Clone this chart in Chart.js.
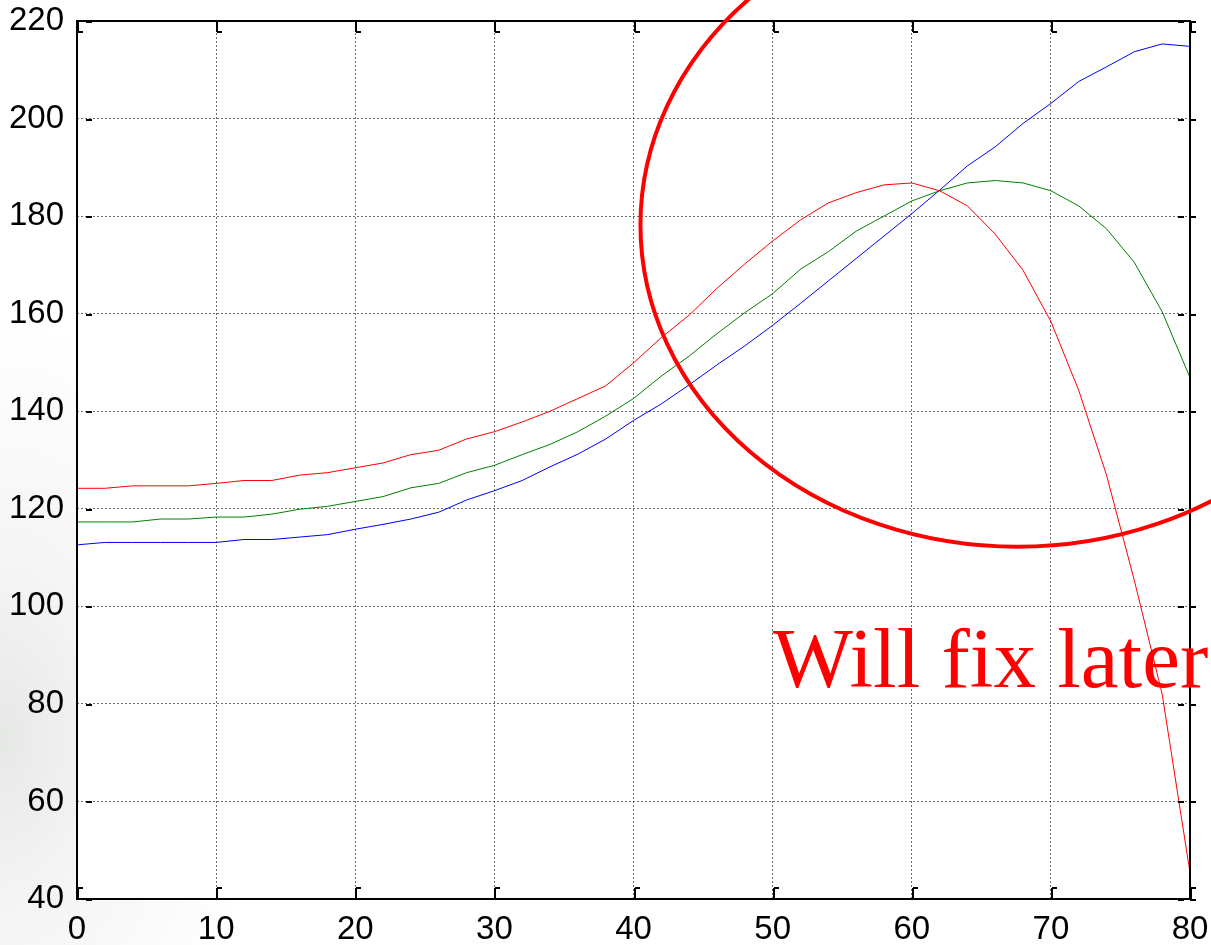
<!DOCTYPE html>
<html>
<head>
<meta charset="utf-8">
<script src="https://cdn.jsdelivr.net/npm/chart.js@4/dist/chart.umd.min.js"></script>
<style>
  html, body { margin:0; padding:0; }
  body {
    width:1211px; height:945px; overflow:hidden;
    background:#fff radial-gradient(ellipse 260px 420px at 0 78%, #e6e8e6 0%, #f3f4f3 40%, #ffffff 100%);
  }
  #wrap { position:relative; width:1211px; height:945px; }
</style>
</head>
<body>
<div id="wrap"><canvas id="chart" width="1211" height="945"></canvas></div>
<script>
/* ---- data ---- */
const xs = [0,2,4,6,8,10,12,14,16,18,20,22,24,26,28,30,32,34,36,38,40,
            42,44,46,48,50,52,54,56,58,60,62,64,66,68,70,72,74,76,78,80];

const redVals   = [124.2,124.2,124.7,124.7,124.7,125.2,125.8,125.8,126.9,127.4,128.4,129.4,131.1,132.0,134.3,135.8,137.8,140.0,142.6,145.2,149.9,
                   155.1,159.7,165.2,170.2,174.9,179.2,182.7,184.8,186.4,186.8,185.2,182.1,176.3,168.9,158.4,144.3,126.9,105.3,82.0,45.4];
const greenVals = [117.3,117.3,117.3,117.9,117.9,118.3,118.3,118.9,119.9,120.5,121.5,122.5,124.3,125.2,127.4,128.9,131.1,133.2,135.8,139.0,142.6,
                   147.2,151.3,155.9,160.2,164.1,169.1,172.7,176.9,180.0,183.1,185.2,186.8,187.3,186.8,185.2,182.1,177.4,170.5,160.4,146.9];
const blueVals  = [112.6,113.1,113.1,113.1,113.1,113.1,113.7,113.7,114.2,114.7,115.8,116.8,117.9,119.3,121.8,123.7,125.8,128.6,131.2,134.3,138.1,
                   141.5,145.4,149.5,153.4,157.6,162.1,166.7,171.3,175.9,180.5,185.3,190.3,194.2,199.0,203.1,207.6,210.6,213.7,215.3,214.8];

const xTicks = [0,10,20,30,40,50,60,70,80];
const yTicks = [40,60,80,100,120,140,160,180,200,220];

const note = 'Will fix later';

function pts(vals) { return xs.map((x, i) => ({ x, y: vals[i] })); }

/* white plot area */
const plotBg = {
  id: 'plotBg',
  beforeDraw(chart) {
    const { ctx, chartArea: a } = chart;
    ctx.save();
    ctx.fillStyle = '#fff';
    ctx.fillRect(a.left, a.top, a.right - a.left, a.bottom - a.top);
    ctx.restore();
  }
};

/* matlab-ish box with inward ticks, then the red note */
const boxAndNote = {
  id: 'boxAndNote',
  afterDraw(chart) {
    const { ctx, chartArea: a, scales } = chart;
    const sx = scales.x, sy = scales.y;
    ctx.save();
    ctx.strokeStyle = '#000';
    ctx.lineWidth = 2;
    ctx.strokeRect(a.left, a.top, a.right - a.left, a.bottom - a.top);
    ctx.beginPath();
    xTicks.forEach(v => {
      const px = Math.round(sx.getPixelForValue(v)) + 1;
      ctx.moveTo(px, a.top);    ctx.lineTo(px, a.top + 11);
      ctx.moveTo(px, a.top + 11); ctx.lineTo(px + 5, a.top + 11);
      ctx.moveTo(px, a.bottom); ctx.lineTo(px, a.bottom - 11);
      ctx.moveTo(px, a.bottom - 11); ctx.lineTo(px + 5, a.bottom - 11);
    });
    yTicks.forEach(v => {
      const py = Math.round(sy.getPixelForValue(v)) + 1;
      ctx.moveTo(a.left + 9, py);  ctx.lineTo(a.left + 15, py);
      ctx.moveTo(a.right - 12, py); ctx.lineTo(a.right - 6, py);
      ctx.moveTo(a.right, py); ctx.lineTo(a.right + 6, py);
    });
    ctx.stroke();

    // annotation ellipse, placed in data units
    const cx = sx.getPixelForValue(67.6), cy = sy.getPixelForValue(178.2);
    const rx = sx.getPixelForValue(27.1) - sx.getPixelForValue(0);
    const ry = sy.getPixelForValue(40) - sy.getPixelForValue(106);
    ctx.strokeStyle = '#ff0000';
    ctx.lineWidth = 4;
    ctx.beginPath();
    ctx.ellipse(cx, cy, rx, ry, 0, 0, Math.PI * 2);
    ctx.stroke();

    ctx.fillStyle = '#ff0000';
    ctx.font = '85px "Liberation Serif", "Times New Roman", serif';
    ctx.textBaseline = 'alphabetic';
    ctx.fillText(note, sx.getPixelForValue(50.0), sy.getPixelForValue(83.4));
    ctx.restore();
  }
};

const gridStyle = { color: 'rgba(60,60,60,0.75)', lineWidth: 1, drawTicks: false };
const tickFont = { family: '"Liberation Sans", Arial, sans-serif', size: 33 };

new Chart(document.getElementById('chart'), {
  type: 'line',
  data: {
    datasets: [
      { data: pts(redVals),   borderColor: '#ff0000', borderWidth: 1, pointRadius: 0, tension: 0, fill: false },
      { data: pts(greenVals), borderColor: '#008000', borderWidth: 1, pointRadius: 0, tension: 0, fill: false },
      { data: pts(blueVals),  borderColor: '#0000ff', borderWidth: 1, pointRadius: 0, tension: 0, fill: false }
    ]
  },
  options: {
    responsive: false,
    animation: false,
    devicePixelRatio: 1,
    layout: { padding: { top: 21, right: 21, left: 0, bottom: 0 } },
    plugins: { legend: { display: false }, tooltip: { enabled: false } },
    scales: {
      x: {
        type: 'linear', min: 0, max: 80,
        afterFit(s) { s.height = 46; s.paddingLeft = 0; s.paddingRight = 0; },
        afterBuildTicks(s) { s.ticks = xTicks.map(v => ({ value: v })); },
        grid: { ...gridStyle },
        border: { display: false, dash: [2, 2] },
        ticks: { color: '#000', padding: 11, maxRotation: 0, autoSkip: false, font: tickFont }
      },
      y: {
        type: 'linear', min: 40, max: 220,
        afterFit(s) { s.width = 77; s.paddingTop = 0; s.paddingBottom = 0; },
        afterBuildTicks(s) { s.ticks = yTicks.map(v => ({ value: v })); },
        grid: { ...gridStyle },
        border: { display: false, dash: [2, 2] },
        ticks: { color: '#000', padding: 13, autoSkip: false, font: tickFont }
      }
    }
  },
  plugins: [plotBg, boxAndNote]
});
</script>
</body>
</html>
